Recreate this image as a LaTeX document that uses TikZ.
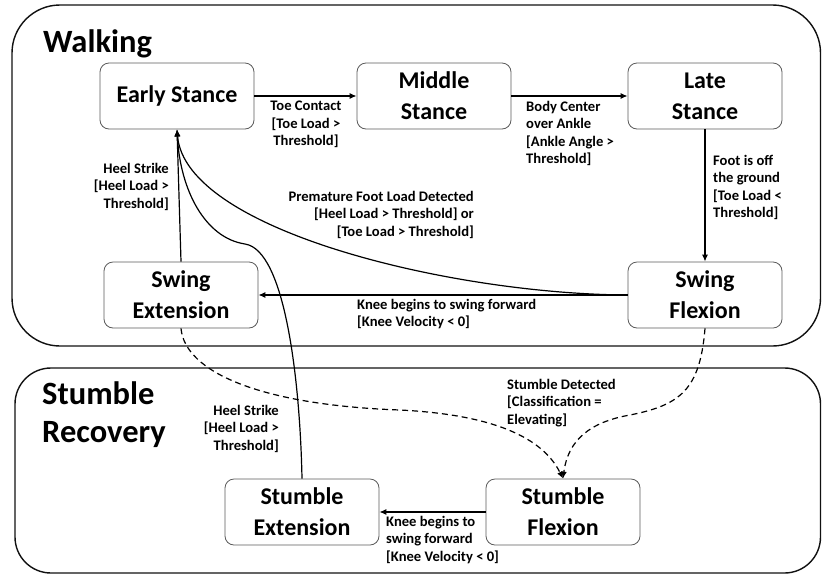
\documentclass[tikz,border=0pt]{standalone}
\usepackage{fontspec}
\setmainfont{Carlito}
\usetikzlibrary{arrows.meta,positioning}
\definecolor{frameblack}{HTML}{111111}
\definecolor{stategray}{HTML}{5A5A5A}
\tikzset{
  statenode/.style={rounded corners=9pt, draw=stategray, fill=white, line width=0.8pt, align=center, font=\fontsize{24}{31}\selectfont\bfseries, minimum width=154pt, minimum height=66pt, inner sep=2pt},
  groupbox/.style={rounded corners=#1, draw=frameblack, line width=1.4pt},
  grouptitle/.style={font=\fontsize{32.5}{38}\selectfont\bfseries, align=left, inner sep=0pt, anchor=north west},
  cond/.style={font=\fontsize{14.6}{17.5}\selectfont\bfseries, inner sep=0pt},
  edge/.style={-{Latex[length=7pt,width=6pt]}, line width=1.2pt, draw=black},
  dashededge/.style={edge, dash pattern=on 6pt off 4pt}
}
\begin{document}
\begin{tikzpicture}[x=1pt, y=-1pt]
  \useasboundingbox (0,0) rectangle (822,574);
  % the two groups
  \draw[groupbox=48pt] (12,5) rectangle (820.5,346);
  \draw[groupbox=36pt] (15,368) rectangle (820.5,573);
  \node[grouptitle] (walktitle) at (43,29) {Walking};
  \node[grouptitle] (stumtitle) at (42,381) {Stumble\\Recovery};
  % states
  \node[statenode] (early) at (177,96) {Early Stance};
  \node[statenode] (middle) at (434,96) {Middle\\Stance};
  \node[statenode] (late) at (705,96) {Late\\Stance};
  \node[statenode] (swingext) at (181,295) {Swing\\Extension};
  \node[statenode] (swingflex) at (705,295) {Swing\\Flexion};
  \node[statenode] (stumext) at (302,512) {Stumble\\Extension};
  \node[statenode] (stumflex) at (563,512) {Stumble\\Flexion};
  % transitions
  \draw[edge] (early) -- (middle);
  \draw[edge] (middle) -- (late);
  \draw[edge] (late) -- (swingflex);
  \draw[edge] (swingflex) -- (swingext);
  \draw[edge] (swingext.north) -- (early.south);
  \draw[edge] (swingflex.west) .. controls (450,294) and (185,230) .. (early.south);
  \draw[edge] (stumext.north) .. controls (300,380) and (285,250) .. (245,244) .. controls (205,238) and (180,190) .. (early.south);
  \draw[dashededge] (swingext.south) .. controls (185,372) and (260,405) .. (400,410) .. controls (480,414) and (540,432) .. (stumflex.north);
  \draw[dashededge] (swingflex.south) .. controls (700,390) and (680,405) .. (630,415) .. controls (590,422) and (568,440) .. (stumflex.north);
  \draw[edge] (stumflex) -- (stumext);
  % guards
  \node[cond, align=center, anchor=north] (toeguard) at (306,101) {Toe Contact\\{[}Toe Load >\\Threshold]};
  \node[cond, align=left, anchor=north west] (ankleguard) at (526,101) {Body Center\\over Ankle\\{[}Ankle Angle >\\Threshold]};
  \node[cond, align=left, anchor=north west] (footguard) at (713,155) {Foot is off\\the ground\\{[}Toe Load <\\Threshold]};
  \node[cond, align=right, anchor=north east] (prematureguard) at (474,191) {Premature Foot Load Detected\\{[}Heel Load > Threshold] or\\{[}Toe Load > Threshold]};
  \node[cond, align=right, anchor=north east] (heelguard) at (169,163) {Heel Strike\\{[}Heel Load >\\Threshold]};
  \node[cond, align=left, anchor=north west] (kneeguard) at (357,299) {Knee begins to swing forward\\{[}Knee Velocity < 0]};
  \node[cond, align=left, anchor=north west] (stumbleguard) at (507,379) {Stumble Detected\\{[}Classification =\\Elevating]};
  \node[cond, align=right, anchor=north east] (stumheelguard) at (279,405) {Heel Strike\\{[}Heel Load >\\Threshold]};
  \node[cond, align=left, anchor=north west] (stumkneeguard) at (386,516) {Knee begins to\\swing forward\\{[}Knee Velocity < 0]};
\end{tikzpicture}
\end{document}
